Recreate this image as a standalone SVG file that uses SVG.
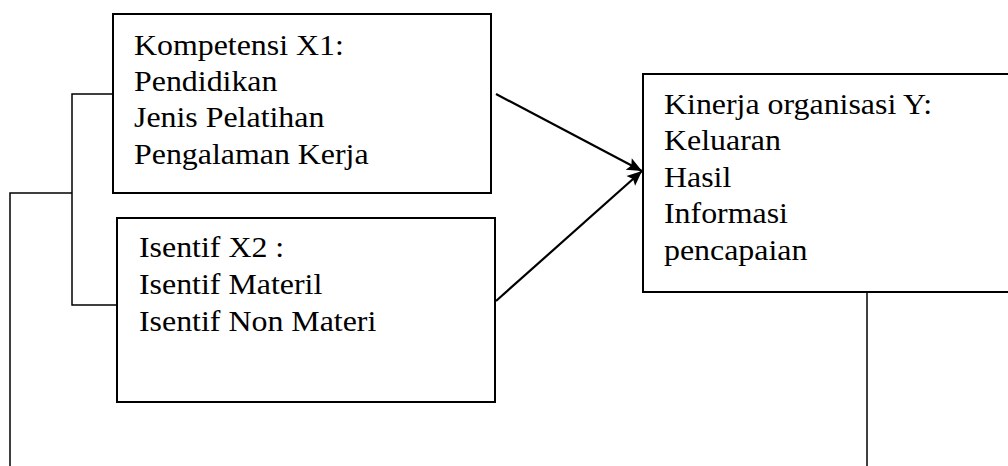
<svg xmlns="http://www.w3.org/2000/svg" width="1008" height="466" viewBox="0 0 1008 466">
  <style>
    .box { fill: #ffffff; stroke: #000000; stroke-width: 2; }
    .txt { font-family: "Liberation Serif", "Times New Roman", serif; font-size: 29px; fill: #000000; }
    .wire { fill: none; stroke: #000000; stroke-width: 1.5; }
    .arrow { fill: none; stroke: #000000; stroke-width: 2.2; }
  </style>
  <defs>
    <marker id="head" markerUnits="userSpaceOnUse" markerWidth="18" markerHeight="16" refX="16" refY="8" orient="auto">
      <path d="M1,1.5 L16,8 L1,14.5 L4,8 Z" fill="#000000"/>
    </marker>
  </defs>
  <rect x="0" y="0" width="1008" height="466" fill="#ffffff"/>

  <g id="connectors">
    <polyline class="wire" points="113,94 72,94 72,305 117,305"/>
    <polyline class="wire" points="72,193 10,193 10,466"/>
    <line class="wire" x1="867" y1="292" x2="867" y2="466"/>
    <line class="arrow" x1="496" y1="94" x2="642" y2="171" marker-end="url(#head)"/>
    <line class="arrow" x1="496" y1="301" x2="642" y2="171" marker-end="url(#head)"/>
  </g>

  <g id="node-x1">
    <rect class="box" x="113" y="14" width="378" height="179"/>
    <g transform="translate(134 0) scale(1.1 1)">
      <text class="txt" x="0" y="55">Kompetensi X1:</text>
      <text class="txt" x="0" y="91">Pendidikan</text>
      <text class="txt" x="0" y="127">Jenis Pelatihan</text>
      <text class="txt" x="0" y="164">Pengalaman Kerja</text>
    </g>
  </g>

  <g id="node-x2">
    <rect class="box" x="117" y="218" width="378" height="184"/>
    <g transform="translate(139 0) scale(1.1 1)">
      <text class="txt" x="0" y="257">Isentif X2 :</text>
      <text class="txt" x="0" y="294">Isentif Materil</text>
      <text class="txt" x="0" y="331">Isentif Non Materi</text>
    </g>
  </g>

  <g id="node-y">
    <rect class="box" x="643" y="74" width="380" height="218"/>
    <g transform="translate(664 0) scale(1.1 1)">
      <text class="txt" x="0" y="114">Kinerja organisasi Y:</text>
      <text class="txt" x="0" y="150.5">Keluaran</text>
      <text class="txt" x="0" y="187">Hasil</text>
      <text class="txt" x="0" y="223.5">Informasi</text>
      <text class="txt" x="0" y="260.5">pencapaian</text>
    </g>
  </g>
</svg>
